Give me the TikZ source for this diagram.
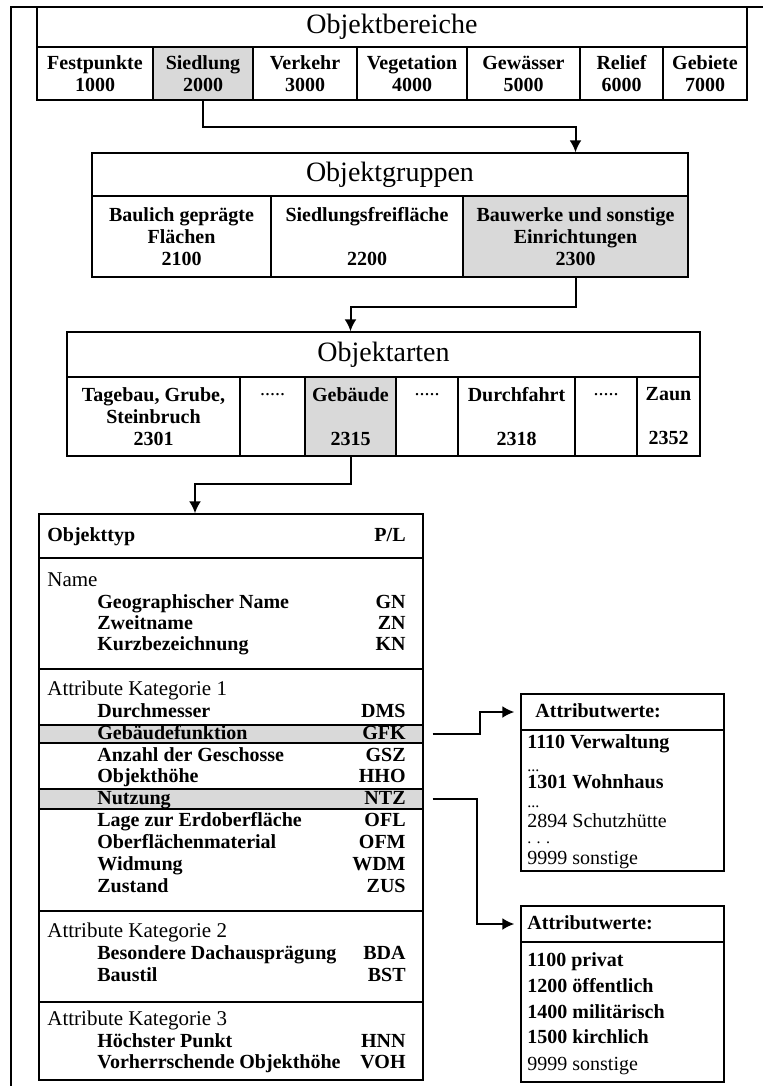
\documentclass[tikz,border=0pt]{standalone}
\usepackage{fontspec}
\setmainfont{Liberation Serif}
\usetikzlibrary{arrows.meta,fit}

\begin{document}
\begin{tikzpicture}[x=0.5pt, y=-0.5pt,
	box/.style={draw=black, line width=0.7pt, inner sep=0pt},
	cell/.style={box, align=center, font=\fontsize{10}{11}\selectfont\bfseries},
	headbox/.style={box, font=\fontsize{14}{16}\selectfont},
	entry/.style={anchor=west, inner sep=0pt, text height=7pt, text depth=2pt, font=\fontsize{10}{12}\selectfont\bfseries},
	abbr/.style={entry, anchor=east},
	header/.style={entry, font=\fontsize{10.5}{12}\selectfont},
	dotline/.style={anchor=base west, inner sep=0pt, font=\fontsize{8}{8}\selectfont},
	conn/.style={line width=1pt, -{Latex[length=6pt,width=6pt]}}]

\useasboundingbox (0,0) rectangle (763,1086);

% Frame
\draw[line width=1.2pt] (763,7) -- (11,7) -- (11,1086);

% Objektbereiche
\node[headbox, minimum width=355pt, minimum height=20pt] (ob) at (392,27) {Objektbereiche};
\foreach \xa/\xb/\txt/\nm/\fl in {37/153/{Festpunkte\\1000}/b1/white, 153/253/{Siedlung\\2000}/b2/gray!30, 253/357/{Verkehr\\3000}/b3/white, 357/467/{Vegetation\\4000}/b4/white, 467/580/{Gewässer\\5000}/b5/white, 580/663/{Relief\\6000}/b6/white, 663/747/{Gebiete\\7000}/b7/white}
	\node[cell, fill=\fl, minimum width={(\xb-\xa)*0.5pt}, minimum height=26.5pt] (\nm) at ({(\xa+\xb)/2},73.5) {\txt};

% Objektgruppen
\node[headbox, minimum width=298pt, minimum height=21.5pt] (og) at (390,174.5) {Objektgruppen};
\foreach \xa/\xb/\txt/\nm/\fl in {92/271/{Baulich geprägte\\Flächen\\2100}/g1/white, 271/463/{Siedlungsfreifläche\\\mbox{}\\2200}/g2/white, 463/688/{Bauwerke und sonstige\\Einrichtungen\\2300}/g3/gray!30}
	\node[cell, fill=\fl, minimum width={(\xb-\xa)*0.5pt}, minimum height=40.5pt] (\nm) at ({(\xa+\xb)/2},236.5) {\txt};

% Objektarten
\node[headbox, minimum width=316.5pt, minimum height=22.5pt] (oa) at (383.5,354.5) {Objektarten};
\foreach \xa/\xb/\txt/\nm/\fl in {67/240/{Tagebau, Grube,\\Steinbruch\\2301}/a1/white, 240/305/{\mdseries.....\\\mbox{}\\\mbox{}}/a2/white, 305/396/{Gebäude\\\mbox{}\\2315}/a3/gray!30, 396/458/{\mdseries.....\\\mbox{}\\\mbox{}}/a4/white, 458/575/{Durchfahrt\\\mbox{}\\2318}/a5/white, 575/637/{\mdseries.....\\\mbox{}\\\mbox{}}/a6/white, 637/700/{Zaun\\\mbox{}\\2352}/a7/white}
	\node[cell, fill=\fl, minimum width={(\xb-\xa)*0.5pt}, minimum height=39.5pt] (\nm) at ({(\xa+\xb)/2},416.5) {\txt};

% Objekttyp table
\foreach \ya/\yb/\nm in {514/558/ot, 558/669/s1, 669/911/s2, 911/1002/s3, 1002/1080/s4}
	\node[box, fit={(39,\ya) (423,\yb)}] (\nm) {};
\node[box, fill=gray!30, fit={(39,725) (423,743)}] (gfk) {};
\node[box, fill=gray!30, fit={(39,789) (423,809)}] (ntz) {};

\node[entry] (typ) at (47,536) {Objekttyp};
\node[abbr] (pl) at (406,536) {P/L};
\foreach \y/\txt/\nm in {581/Name/k0, 690/Attribute Kategorie 1/k1, 932/Attribute Kategorie 2/k2, 1020/Attribute Kategorie 3/k3}
	\node[header] (\nm) at (47,\y) {\txt};
\foreach \y/\txt/\cd in {603/Geographischer Name/GN, 624/Zweitname/ZN, 645/Kurzbezeichnung/KN, 712/Durchmesser/DMS, 734/Gebäudefunktion/GFK, 756/Anzahl der Geschosse/GSZ, 777/Objekthöhe/HHO, 799/Nutzung/NTZ, 821/Lage zur Erdoberfläche/OFL, 843/Oberflächenmaterial/OFM, 865/Widmung/WDM, 887/Zustand/ZUS, 954/Besondere Dachausprägung/BDA, 976/Baustil/BST, 1042/Höchster Punkt/HNN, 1063/Vorherrschende Objekthöhe/VOH}
{
	\node[entry] (n\cd) at (97,\y) {\txt};
	\node[abbr] (c\cd) at (406,\y) {\cd};
}

% Attributwerte Gebaeudefunktion
\node[box, fit={(521,694) (724,730)}] (aw1) {};
\node[box, fit={(521,730) (724,871)}] (av1) {};
\node[entry] (h1) at (535,712) {Attributwerte:};
\foreach \y/\txt/\ft/\nm in {743/1110 Verwaltung/\bfseries/w1, 783/1301 Wohnhaus/\bfseries/w2, 822/2894 Schutzhütte/\mdseries/w3, 859/9999 sonstige/\mdseries/w4}
	\node[entry] (\nm) at (527,\y) {\ft\txt};
\foreach \y/\nm in {771/d1, 807/d2}
	\node[dotline] (\nm) at (527,\y) {...};
\node[dotline] (d3) at (527,843) {. . .};

% Attributwerte Nutzung
\node[box, fit={(521,906) (724,942)}] (aw2) {};
\node[box, fit={(521,942) (724,1082)}] (av2) {};
\node[entry] (h2) at (527,924) {Attributwerte:};
\foreach \y/\txt/\ft/\nm in {961/1100 privat/\bfseries/v1, 987/1200 öffentlich/\bfseries/v2, 1013/1400 militärisch/\bfseries/v3, 1038/1500 kirchlich/\bfseries/v4, 1065/9999 sonstige/\mdseries/v5}
	\node[entry] (\nm) at (527,\y) {\ft\txt};

% Connections between the levels
\draw[conn] (b2.south) -- ++(0,26) -| (g3 |- og.north);
\draw[conn] (g3.south) -- ++(0,29) -| (a3 |- oa.north);
\draw[conn] (a3.south) -- ++(0,27) -| ([xshift=-18pt]ot.north);

% Connections to the attribute values
\draw[conn] ([xshift=4.5pt]gfk.east) -- ++(47,0) |- ([xshift=-3pt]aw1.west);
\draw[conn] ([xshift=4.5pt]ntz.east) -- ++(44,0) |- ([xshift=-3pt]aw2.west);
\end{tikzpicture}
\end{document}
